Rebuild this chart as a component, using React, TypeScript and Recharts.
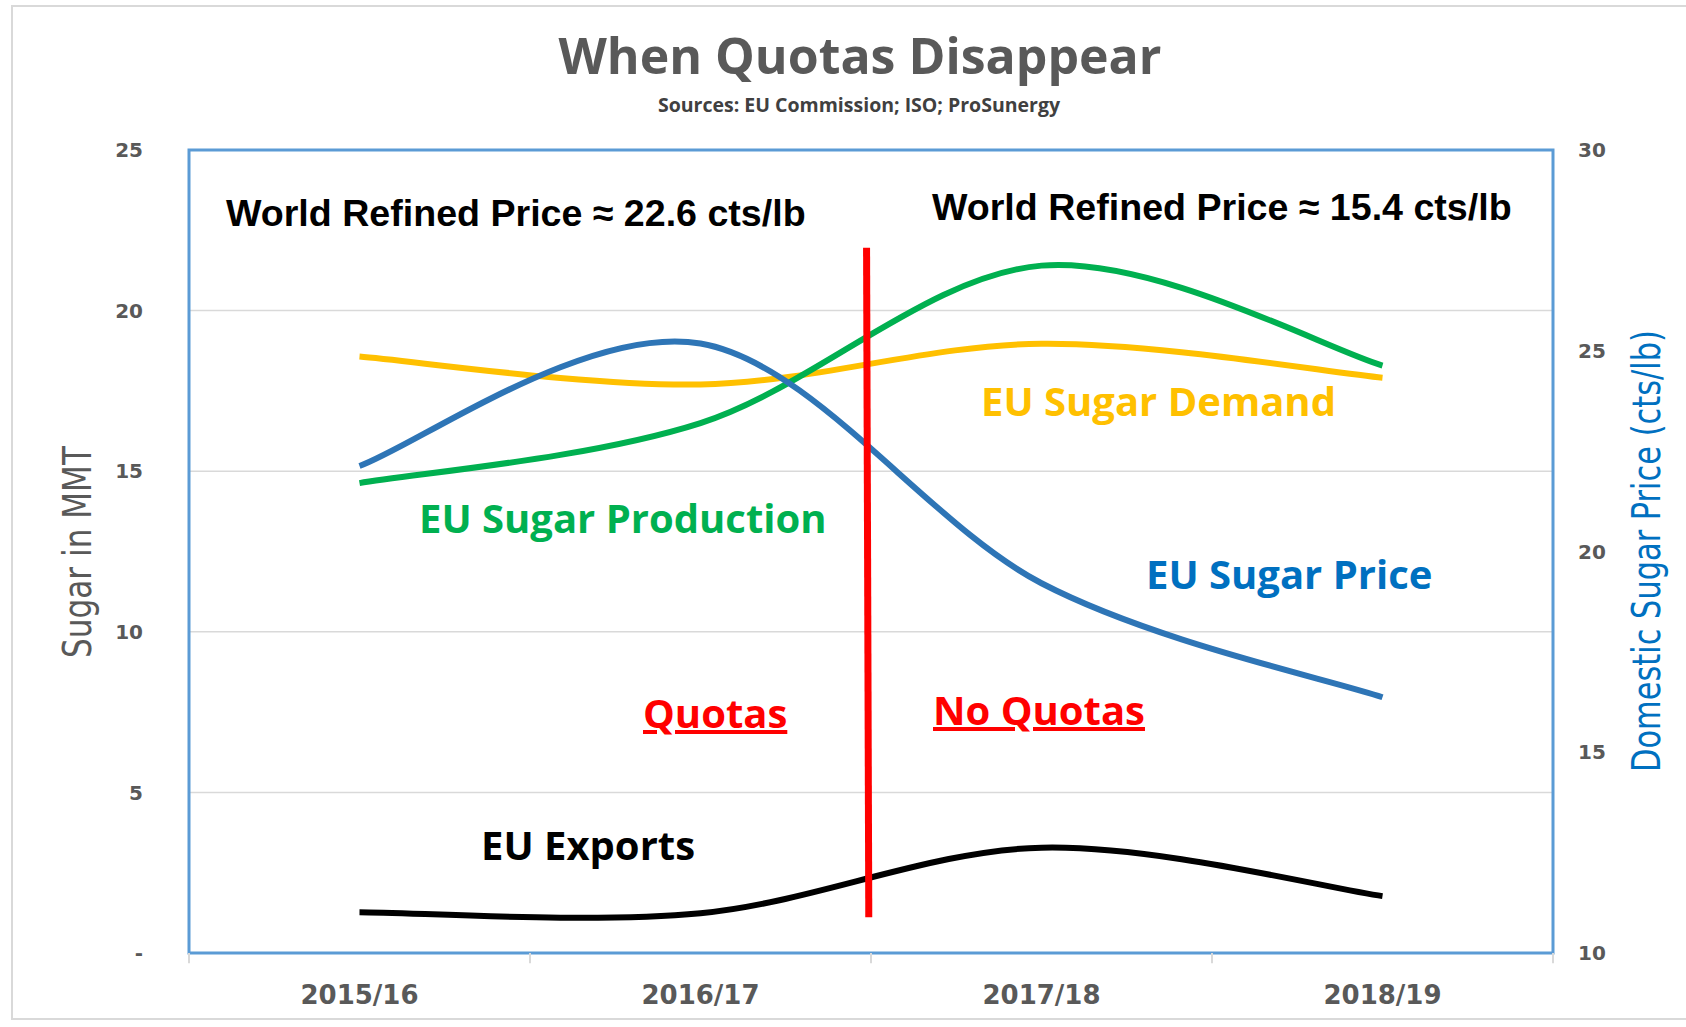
import { LineChart, Line, XAxis, YAxis, CartesianGrid, ReferenceLine, ReferenceArea } from 'recharts';

const years = ['2015/16', '2016/17', '2017/18', '2018/19'];
const demand = [18.57, 17.7, 18.97, 17.91];
const production = [14.63, 16.5, 21.4, 18.29];
const exportsEU = [1.27, 1.24, 3.28, 1.77];
const price = [22.13, 25.18, 19.21, 16.37];

const xTicks = [0, 1, 2, 3];
const leftTicks = [0, 5, 10, 15, 20, 25];
const rightTicks = [10, 15, 20, 25, 30];
const boundaries = [-0.5, 0.5, 1.5, 2.5, 3.5];

const data = years.map((year, i) => ({
  year,
  demand: demand[i],
  production: production[i],
  exports: exportsEU[i],
  price: price[i],
}));

// Excel-style smoothed line (Catmull-Rom through the points)
function excelSmooth(context: any) {
  let pts: number[][] = [];
  return {
    areaStart() {},
    areaEnd() {},
    lineStart() {
      pts = [];
    },
    lineEnd() {
      const n = pts.length;
      if (!n) return;
      context.moveTo(pts[0][0], pts[0][1]);
      for (let i = 0; i < n - 1; i++) {
        const p0 = pts[i - 1] || pts[i];
        const p1 = pts[i];
        const p2 = pts[i + 1];
        const p3 = pts[i + 2] || p2;
        context.bezierCurveTo(
          p1[0] + (p2[0] - p0[0]) / 6,
          p1[1] + (p2[1] - p0[1]) / 6,
          p2[0] - (p3[0] - p1[0]) / 6,
          p2[1] - (p3[1] - p1[1]) / 6,
          p2[0],
          p2[1],
        );
      }
    },
    point(x: number, y: number) {
      pts.push([+x, +y]);
    },
  };
}

const GRAY = '#595959';
const tickFont = { fontFamily: 'DejaVu Sans', fontWeight: 700, fontSize: 20, fill: GRAY };
const labelFont = { fontFamily: '"Open Sans", sans-serif', fontWeight: 700, fontSize: 40 };
const priceFont = { fontFamily: '"Liberation Sans", Arial, sans-serif', fontWeight: 700, fontSize: 37.6, fill: '#000' };
const narrowFont = { fontFamily: '"Liberation Sans Narrow", "DejaVu Sans Condensed", sans-serif', fontSize: 39, fontWeight: 500 };

export default function App() {
  return (
    <div style={{ position: 'absolute', left: 0, top: 0, width: 1686, height: 1027, background: '#fff', overflow: 'hidden' }}>
      <div style={{ position: 'absolute', left: 11, top: 5, width: 1700, height: 1011, border: '2px solid #D9D9D9' }} />
      <div style={{ position: 'absolute', left: 0, top: 0 }}>
        <LineChart width={1686} height={1027} data={data} margin={{ top: 150, right: 33, bottom: 0, left: 89 }}>
          <CartesianGrid yAxisId="left" vertical={false} stroke="#D9D9D9" strokeWidth={1.5} />
          <XAxis
            type="number"
            dataKey={(d: any) => years.indexOf(d.year)}
            domain={[-0.5, 3.5]}
            allowDataOverflow
            ticks={xTicks}
            interval={0}
            tickFormatter={(i: number) => years[i] ?? ''}
            axisLine={false}
            tickLine={false}
            tickSize={0}
            tickMargin={33}
            height={74}
            tick={{ fontFamily: 'DejaVu Sans', fontWeight: 700, fontSize: 26, fill: GRAY }}
          />
          <YAxis
            yAxisId="left"
            domain={[0, 25]}
            ticks={leftTicks}
            interval={0}
            tickFormatter={(v: number) => (v === 0 ? '-' : String(v))}
            axisLine={false}
            tickLine={false}
            tickSize={0}
            tickMargin={46}
            width={100}
            tick={tickFont}
          />
          <YAxis
            yAxisId="right"
            orientation="right"
            domain={[10, 30]}
            ticks={rightTicks}
            interval={0}
            axisLine={false}
            tickLine={false}
            tickSize={0}
            tickMargin={25}
            width={100}
            tick={{ ...tickFont, textAnchor: 'start' }}
          />
          <ReferenceArea
            yAxisId="left"
            x1={-0.5}
            x2={3.5}
            y1={0}
            y2={25}
            fill="none"
            fillOpacity={0}
            stroke="#5B9BD5"
            strokeWidth={3}
            ifOverflow="visible"
          />
          {boundaries.map((b) => (
            <ReferenceLine
              key={b}
              yAxisId="left"
              segment={[{ x: b, y: 0 }, { x: b, y: -0.32 }]}
              stroke="#D9D9D9"
              strokeWidth={2}
              ifOverflow="visible"
            />
          ))}
          <Line yAxisId="left" dataKey="demand" type={excelSmooth as any} stroke="#FFC000" strokeWidth={6} dot={false} activeDot={false} isAnimationActive={false} />
          <Line yAxisId="left" dataKey="production" type={excelSmooth as any} stroke="#00B050" strokeWidth={6} dot={false} activeDot={false} isAnimationActive={false} />
          <Line yAxisId="right" dataKey="price" type={excelSmooth as any} stroke="#2E75B6" strokeWidth={6} dot={false} activeDot={false} isAnimationActive={false} />
          <Line yAxisId="left" dataKey="exports" type={excelSmooth as any} stroke="#000000" strokeWidth={6} dot={false} activeDot={false} isAnimationActive={false} />
          <ReferenceLine
            yAxisId="left"
            segment={[{ x: 1.487, y: 21.96 }, { x: 1.4935, y: 1.11 }]}
            stroke="#FF0000"
            strokeWidth={7}
            ifOverflow="visible"
          />
        </LineChart>
      </div>
      <svg width={1686} height={1027} style={{ position: 'absolute', left: 0, top: 0, pointerEvents: 'none' }}>
        <text x={860} y={74} textAnchor="middle" style={{ fontFamily: '"Open Sans", sans-serif', fontWeight: 700, fontSize: 50, fill: GRAY }}>
          When Quotas Disappear
        </text>
        <text x={859} y={112} textAnchor="middle" style={{ fontFamily: '"Open Sans", sans-serif', fontWeight: 700, fontSize: 19.5, fill: '#404040' }}>
          Sources: EU Commission; ISO; ProSunergy
        </text>
        <text x={77} y={552} textAnchor="middle" dominantBaseline="central" textLength={212} lengthAdjust="spacingAndGlyphs" transform="rotate(-90 77 552)" style={{ ...narrowFont, fill: GRAY }}>
          Sugar in MMT
        </text>
        <text x={1646} y={551} textAnchor="middle" dominantBaseline="central" textLength={442} lengthAdjust="spacingAndGlyphs" transform="rotate(-90 1646 551)" style={{ ...narrowFont, fill: '#0070C0' }}>
          Domestic Sugar Price (cts/lb)
        </text>
        <text x={226} y={226} style={priceFont}>World Refined Price ≈ 22.6 cts/lb</text>
        <text x={932} y={220} style={priceFont}>World Refined Price ≈ 15.4 cts/lb</text>
        <text x={981} y={416} style={{ ...labelFont, fill: '#FFC000' }}>EU Sugar Demand</text>
        <text x={419} y={533} style={{ ...labelFont, fill: '#00B050' }}>EU Sugar Production</text>
        <text x={1146} y={589} style={{ ...labelFont, fill: '#0070C0' }}>EU Sugar Price</text>
        <text x={481} y={860} style={{ ...labelFont, fill: '#000' }}>EU Exports</text>
        <text x={643} y={728} style={{ ...labelFont, fill: '#FF0000', textDecoration: 'underline' }}>Quotas</text>
        <text x={933} y={725} style={{ ...labelFont, fill: '#FF0000', textDecoration: 'underline' }}>No Quotas</text>
      </svg>
    </div>
  );
}
